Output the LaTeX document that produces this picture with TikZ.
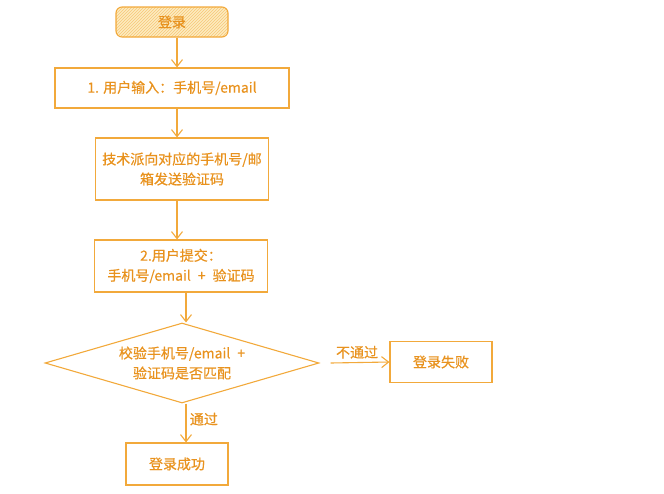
\documentclass[tikz,border=0pt]{standalone}
\usepackage{fontspec}
\setmainfont[FakeBold=0.6]{Noto Sans CJK SC}
\usetikzlibrary{arrows.meta, shapes.geometric, patterns}
\definecolor{line}{HTML}{F2A93B}
\definecolor{ink}{HTML}{E8921E}
\definecolor{startfill}{HTML}{FDEBC0}
\definecolor{hatch}{HTML}{F6C777}
\begin{document}
\begin{tikzpicture}[x=1pt, y=-1pt, line width=1.1pt, draw=line, text=ink,
  font=\fontsize{14}{20}\selectfont]
\tikzset{box/.style={draw=line, rectangle, align=center, inner sep=0pt},
  flow/.style={draw=line, -{Straight Barb[length=7pt, width=11pt]}}}
\useasboundingbox (0,0) rectangle (664,493);
\coordinate (s1) at (177,0);
\coordinate (s2) at (186,0);
\node[box, rounded corners=6pt, preaction={fill=startfill}, pattern=north east lines, pattern color=hatch,
  minimum width=112pt, minimum height=30pt] (1) at (172,22) {登录};
\node[box, minimum width=234pt, minimum height=40pt] (2) at (172,88) {1. 用户输入：手机号/email};
\node[box, minimum width=173pt, minimum height=62pt] (3) at (182,169) {技术派向对应的手机号/邮\\箱发送验证码};
\node[box, minimum width=173pt, minimum height=52pt] (4) at (181,266) {2.用户提交：\\手机号/email\hspace{0.5em}+\hspace{0.5em}验证码};
\node[draw=line, diamond, aspect=3.4, align=center, inner sep=0pt,
  minimum width=274pt, minimum height=80pt] (5) at (182,363) {校验手机号/email\hspace{0.5em}+\\验证码是否匹配};
\node[box, minimum width=102pt, minimum height=41pt] (6) at (441,362) {登录失败};
\node[box, minimum width=102pt, minimum height=42pt] (7) at (177,464) {登录成功};
\draw[flow] (1.south -| s1) -- (2.north -| s1);
\draw[flow] (2.south -| s1) -- (3.north -| s1);
\draw[flow] (3.south -| s1) -- (4.north -| s1);
\draw[flow] (4.south -| s2) -- (5.north -| s2);
\draw[flow] ([xshift=11pt]5.east) -- node[above, pos=0.45] {不通过} (6.west);
\draw[flow] (5.south -| s2) -- node[right, pos=0.4] {通过} (7.north -| s2);
\end{tikzpicture}
\end{document}
